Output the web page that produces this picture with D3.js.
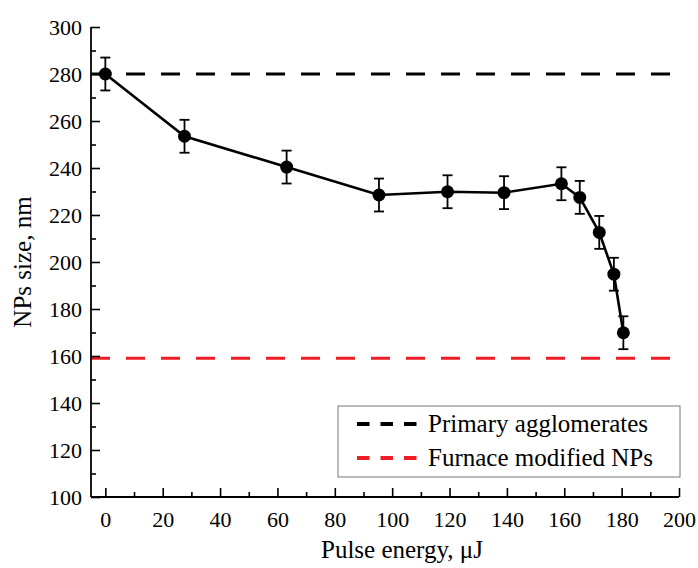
<!DOCTYPE html>
<html><head><meta charset="utf-8">
<script src="https://cdn.jsdelivr.net/npm/d3@7"></script>
<style>body{margin:0;background:#fff}svg{display:block}</style>
</head><body>
<svg id="c" width="698" height="568"></svg>
<script>
const pulseEnergy = [0, 27.6, 63.2, 95.4, 119.3, 139, 159, 165.4, 172.2, 177.3, 180.6];
const npSize      = [280, 253.5, 240.4, 228.5, 229.9, 229.5, 233.3, 227.5, 212.6, 194.8, 169.9];
const npError     = [7, 7, 7, 7, 7, 7, 7, 7, 7, 7, 7];
const refLines = [
  {name: "Primary agglomerates", value: 280, color: "#000000"},
  {name: "Furnace modified NPs", value: 159, color: "#ee1c25"}
];
const xTicks = [0, 20, 40, 60, 80, 100, 120, 140, 160, 180, 200];
const yTicks = [100, 120, 140, 160, 180, 200, 220, 240, 260, 280, 300];
const xTitle = "Pulse energy, μJ";
const yTitle = "NPs size, nm";

const FONT = "'Liberation Serif', 'Times New Roman', serif";
const svg = d3.select("#c");
const x = d3.scaleLinear().domain([-5, 200]).range([91, 679]);
const y = d3.scaleLinear().domain([100, 300]).range([497, 27]);

// reference lines
svg.append("g").selectAll("line").data(refLines).join("line")
  .attr("x1", x(-5)).attr("x2", x(200))
  .attr("y1", d => y(d.value)).attr("y2", d => y(d.value))
  .attr("stroke", d => d.color).attr("stroke-width", 3)
  .attr("stroke-dasharray", "19,16");

// axes
const xAxis = d3.axisBottom(x).tickValues(xTicks).tickSize(-9).tickPadding(14).tickFormat(d3.format("d"));
const xMinor = d3.axisBottom(x).tickValues(d3.range(10, 200, 20)).tickSize(-5).tickFormat("");
const yAxis = d3.axisLeft(y).tickValues(yTicks).tickSize(-9).tickPadding(9).tickFormat(d3.format("d"));
const yMinor = d3.axisLeft(y).tickValues(d3.range(110, 300, 20)).tickSize(-5).tickFormat("");

function style(g){
  g.attr("font-family", FONT);
  g.select(".domain").attr("stroke", "#000").attr("stroke-width", 1.8);
  g.selectAll(".tick line").attr("stroke", "#000").attr("stroke-width", 1.6);
  g.selectAll(".tick text").attr("font-family", FONT).attr("font-size", 22).attr("fill", "#000");
}
svg.append("g").attr("transform", `translate(0,${y(100)})`).call(xMinor).call(style).select(".domain").remove();
svg.append("g").attr("transform", `translate(0,${y(100)})`).call(xAxis).call(style)
  .select(".domain").attr("d", `M${x(-5)},0H${x(200)}`);
svg.append("g").attr("transform", `translate(${x(-5)},0)`).call(yMinor).call(style).select(".domain").remove();
svg.append("g").attr("transform", `translate(${x(-5)},0)`).call(yAxis).call(style)
  .select(".domain").attr("d", `M0,${y(100)}V${y(300)}`);

// titles
svg.append("text").attr("x", 402).attr("y", 558).attr("text-anchor", "middle")
  .attr("font-family", FONT).attr("font-size", 25).text(xTitle);
svg.append("text").attr("transform", `translate(31,${(y(100)+y(300))/2}) rotate(-90)`)
  .attr("text-anchor", "middle").attr("font-family", FONT).attr("font-size", 25).text(yTitle);

// data
const data = pulseEnergy.map((e, i) => ({e, s: npSize[i], err: npError[i]}));
svg.append("path").datum(data)
  .attr("d", d3.line().x(d => x(d.e)).y(d => y(d.s)))
  .attr("fill", "none").attr("stroke", "#000").attr("stroke-width", 2.6);
const eb = svg.append("g").attr("stroke", "#000").attr("stroke-width", 1.8);
data.forEach(d => {
  eb.append("line").attr("x1", x(d.e)).attr("x2", x(d.e)).attr("y1", y(d.s - d.err)).attr("y2", y(d.s + d.err));
  [d.s - d.err, d.s + d.err].forEach(v => eb.append("line")
    .attr("x1", x(d.e) - 5).attr("x2", x(d.e) + 5).attr("y1", y(v)).attr("y2", y(v)));
});
svg.append("g").selectAll("circle").data(data).join("circle")
  .attr("cx", d => x(d.e)).attr("cy", d => y(d.s)).attr("r", 6.5).attr("fill", "#000");

// legend
const lg = svg.append("g");
lg.append("rect").attr("x", 338).attr("y", 406).attr("width", 342).attr("height", 71)
  .attr("fill", "#fff").attr("stroke", "#777").attr("stroke-width", 1);
refLines.forEach((d, i) => {
  const yy = 424 + i * 34;
  lg.append("line").attr("x1", 357).attr("x2", 418).attr("y1", yy).attr("y2", yy)
    .attr("stroke", d.color).attr("stroke-width", 4).attr("stroke-dasharray", "12.5,11");
  lg.append("text").attr("x", 428).attr("y", yy + 8).attr("font-family", FONT)
    .attr("font-size", 25).attr("fill", "#000").text(d.name);
});
</script>
</body></html>
